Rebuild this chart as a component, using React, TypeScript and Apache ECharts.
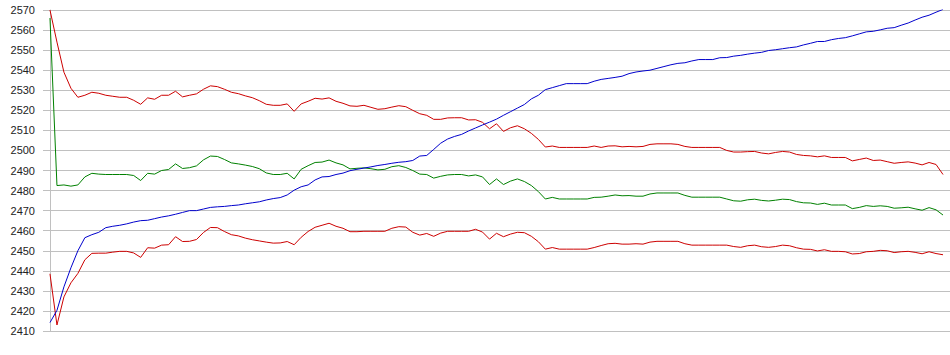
import React, { useEffect, useRef } from "react";
import * as echarts from "echarts";

const yTicks = { min: 2410, max: 2570, interval: 10 };

const blueLine = [
  2414.2, 2420.3, 2432, 2441.5, 2450, 2456.5, 2458, 2459.2, 2461.5, 2462.2,
  2462.7, 2463.4, 2464.3, 2465, 2465.2, 2466, 2466.8, 2467.4, 2468.2, 2469.1,
  2470, 2470, 2470.8, 2471.6, 2471.9, 2472.1, 2472.5, 2472.8, 2473.4, 2473.9,
  2474.4, 2475.3, 2476, 2476.5, 2477.8, 2480.2, 2481.9, 2482.8, 2485.3, 2486.8,
  2487, 2488, 2488.7, 2489.9, 2490.6, 2491.2, 2491.8, 2492.5, 2493, 2493.6,
  2494.1, 2494.4, 2495, 2497.2, 2497.5, 2500.5, 2503.6, 2505.7, 2507, 2508,
  2509.7, 2511.2, 2512.7, 2514.1, 2515.6, 2517.5, 2519.3, 2521.1, 2522.9, 2525.7,
  2527.5, 2530.3, 2531.3, 2532.3, 2533.3, 2533.3, 2533.3, 2533.3, 2534.5, 2535.4,
  2535.9, 2536.4, 2537, 2538.3, 2539.1, 2539.6, 2540, 2540.9, 2541.8, 2542.7,
  2543.4, 2543.7, 2544.6, 2545.3, 2545.3, 2545.3, 2546.2, 2546.3, 2547, 2547.4,
  2548, 2548.5, 2548.9, 2549.8, 2550.2, 2550.7, 2551.2, 2551.6, 2552.6, 2553.4,
  2554.3, 2554.3, 2555.2, 2555.8, 2556.2, 2557.1, 2558.1, 2559.1, 2559.4, 2560.1,
  2560.9, 2561.2, 2562.4, 2563.5, 2565, 2566.4, 2567.4, 2568.9, 2570.3,
];

const upperRed = [
  2570, 2554, 2539, 2531, 2526.5, 2527.5, 2529, 2528.5, 2527.5, 2527,
  2526.5, 2526.5, 2525, 2523, 2526.2, 2525.5, 2527.5, 2527.5, 2529.5, 2526.7,
  2527.5, 2528.2, 2530.5, 2532.2, 2531.8, 2530.5, 2529, 2528.3, 2527.2, 2526.3,
  2524.8, 2523, 2522.5, 2522.5, 2523.2, 2519.5, 2523.2, 2524.5, 2526, 2525.6,
  2526.2, 2524.5, 2523.5, 2522.2, 2522, 2522.5, 2521.5, 2520.5, 2520.8, 2521.6,
  2522.3, 2521.8, 2520, 2518.3, 2517.5, 2515.5, 2515.5, 2516.2, 2516.3, 2516.3,
  2515.2, 2515.3, 2514, 2510.8, 2513.3, 2509.5, 2511.3, 2512.3, 2510.8, 2508.5,
  2505.5, 2501.7, 2502.2, 2501.5, 2501.5, 2501.5, 2501.5, 2501.5, 2502.2, 2501.5,
  2502.2, 2502.3, 2501.8, 2502, 2501.8, 2502, 2503, 2503.3, 2503.3, 2503.3,
  2503, 2502, 2501.5, 2501.5, 2501.5, 2501.5, 2501.5, 2500, 2499.2, 2499.2,
  2499.4, 2499.5, 2498.7, 2498.3, 2499, 2499.5, 2499.2, 2498, 2497.5, 2497.3,
  2496.8, 2497.3, 2496.5, 2496.5, 2496.5, 2494.8, 2495.5, 2496.2, 2495, 2495.2,
  2494.4, 2493.6, 2494, 2494.3, 2493.7, 2492.8, 2494, 2493, 2488,
];

const greenLine = [
  2566, 2482.5, 2482.8, 2482.2, 2482.8, 2486.8, 2488.6, 2488.2, 2488, 2488,
  2488, 2488, 2487.5, 2485, 2488.6, 2488.2, 2490, 2490.5, 2493.3, 2491,
  2491.4, 2492.3, 2495.3, 2497.2, 2497, 2495.5, 2493.8, 2493.3, 2492.7, 2492,
  2490.9, 2488.8, 2488, 2488, 2488.6, 2485.8, 2490.6, 2492.4, 2494, 2494.2,
  2495.2, 2493.8, 2492.8, 2490.8, 2491.1, 2491.3, 2490.9, 2490.3, 2490.6, 2491.9,
  2492.4, 2491.5, 2490, 2488.2, 2488, 2486.2, 2487.1, 2487.8, 2488, 2488,
  2487.3, 2487.8, 2486.8, 2483, 2485.8, 2483, 2484.7, 2485.8, 2484.5, 2482.5,
  2479.5, 2475.8, 2476.6, 2475.8, 2475.8, 2475.8, 2475.8, 2475.8, 2476.6, 2476.7,
  2477.2, 2477.8, 2477.4, 2477.5, 2477.2, 2477.2, 2478.3, 2478.8, 2478.8, 2478.8,
  2478.8, 2477.6, 2476.7, 2476.7, 2476.7, 2476.7, 2476.7, 2475.8, 2474.9, 2474.7,
  2475.4, 2475.7, 2475.1, 2474.8, 2475.2, 2475.7, 2475.5, 2474.5, 2473.9, 2473.8,
  2473.1, 2473.7, 2472.8, 2472.8, 2472.8, 2471, 2471.6, 2472.5, 2472.1, 2472.4,
  2472.1, 2471.2, 2471.4, 2471.7, 2470.9, 2470.2, 2471.5, 2470.4, 2467.8,
];

const lowerRed = [
  2438.5, 2413, 2427, 2434, 2438.7, 2445.5, 2448.7, 2448.8, 2448.8, 2449.3,
  2449.7, 2449.7, 2448.9, 2446.7, 2451.5, 2451.3, 2452.8, 2453, 2457, 2454.6,
  2454.7, 2455.6, 2459.1, 2461.6, 2461.5, 2459.6, 2458, 2457.4, 2456.3, 2455.5,
  2454.9, 2454.3, 2453.8, 2453.9, 2454.6, 2453, 2456.7, 2459.6, 2461.7, 2462.7,
  2463.7, 2462.2, 2461.2, 2459.5, 2459.5, 2459.7, 2459.7, 2459.7, 2459.7, 2461.2,
  2462, 2461.8, 2459.2, 2457.8, 2458.6, 2457.2, 2458.8, 2459.7, 2459.7, 2459.7,
  2459.7, 2460.7, 2459.3, 2455.8, 2458.7, 2457, 2458.3, 2459.2, 2459, 2457.2,
  2454.5, 2450.8, 2451.6, 2450.8, 2450.8, 2450.8, 2450.8, 2450.8, 2451.6, 2452.6,
  2453.5, 2453.7, 2453.3, 2453.3, 2453.5, 2453.3, 2454.3, 2454.7, 2454.7, 2454.7,
  2454.7, 2453.5, 2452.8, 2452.8, 2452.8, 2452.8, 2452.8, 2452.8, 2452.1, 2451.7,
  2452.5, 2452.8, 2452, 2451.7, 2452.1, 2452.8, 2452.5, 2451.5, 2450.8, 2450.7,
  2449.9, 2450.5, 2449.7, 2449.7, 2449.5, 2448.4, 2448.6, 2449.5, 2449.7, 2450.2,
  2450, 2449.1, 2449.5, 2449.7, 2449.2, 2448.5, 2449.5, 2448.6, 2448,
];

const toPairs = (arr: number[]) => arr.map((v, i) => [i, v]);

export default function App() {
  const ref = useRef<HTMLDivElement>(null);
  useEffect(() => {
    if (!ref.current) return;
    const chart = echarts.init(ref.current, null, { renderer: "svg" });
    const n = blueLine.length;
    const mk = (data: number[], color: string) => ({
      type: "line",
      data: toPairs(data),
      showSymbol: false,
      symbol: "none",
      lineStyle: { width: 1, color },
      itemStyle: { color },
    });
    chart.setOption({
      animation: false,
      backgroundColor: "#ffffff",
      grid: { left: 43, right: 0, top: 10, bottom: 24 },
      xAxis: {
        type: "value",
        min: -1,
        max: n,
        show: false,
        splitLine: { show: false },
      },
      yAxis: {
        type: "value",
        min: yTicks.min,
        max: yTicks.max,
        interval: yTicks.interval,
        axisLine: { show: true, lineStyle: { color: "#c0c0c0", width: 1 } },
        axisTick: { show: false },
        axisLabel: {
          color: "#222222",
          fontSize: 11,
          fontFamily: "Liberation Sans, Arial, sans-serif",
          margin: 8,
          formatter: (v: number) => String(v),
        },
        splitLine: { show: true, lineStyle: { color: "#c0c0c0", width: 1 } },
      },
      series: [
        mk(upperRed, "#cc0000"),
        mk(greenLine, "#008000"),
        mk(lowerRed, "#cc0000"),
        mk(blueLine, "#0000cc"),
      ],
    });
    return () => chart.dispose();
  }, []);
  return (
    <div
      ref={ref}
      style={{ position: "fixed", left: 0, top: 0, width: 950, height: 355, background: "#fff" }}
    />
  );
}
